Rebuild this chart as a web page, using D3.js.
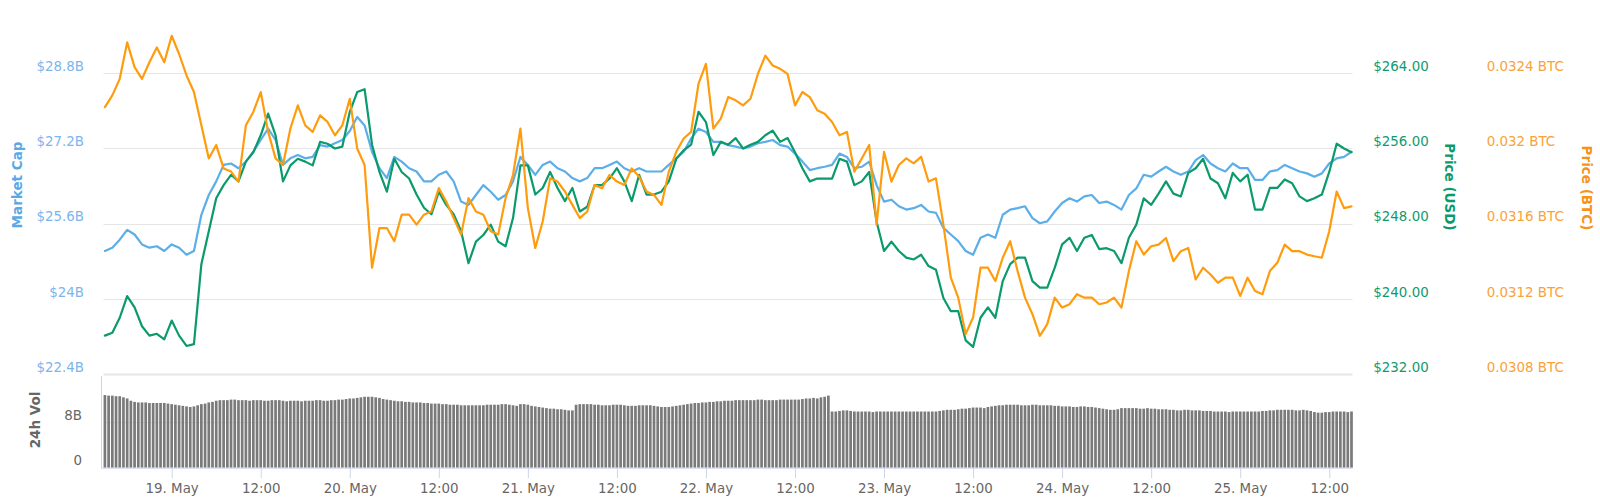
<!DOCTYPE html>
<html><head><meta charset="utf-8">
<script src="https://cdn.jsdelivr.net/npm/d3@7"></script>
<style>
body{margin:0;background:#fff}
svg{display:block;font-family:"DejaVu Sans",Verdana,sans-serif}
</style>
</head><body><svg id="c" width="1600" height="503"></svg>
<script>
// ---- data ----
const startUTC = Date.UTC(2019, 4, 18, 15, 0);   // first sample
const lineStepMinutes = 60;
const volStepMinutes = 30;

const priceUSD = [
236.1,236.4,238.0,240.3,239.1,237.1,236.1,236.3,235.7,237.7,
236.1,235.0,235.2,243.7,247.2,250.7,252.1,253.2,252.5,254.6,
255.6,257.4,259.7,257.4,252.5,254.2,254.9,254.6,254.2,256.7,
256.5,256.0,256.2,259.9,262.0,262.3,256.4,253.5,251.4,254.9,
253.5,252.8,251.1,249.7,249.0,251.4,250.0,249.0,247.2,243.8,
246.1,246.8,247.9,246.1,245.6,248.6,254.2,254.2,251.1,251.8,
253.5,251.8,250.4,251.8,249.3,249.8,252.1,252.1,252.8,253.9,
252.5,250.4,253.2,251.1,251.1,251.4,252.5,254.9,255.8,256.4,
259.9,258.8,255.3,256.7,256.4,257.1,256.0,256.4,256.7,257.4,
257.9,256.7,257.1,255.6,253.9,252.5,252.8,252.8,252.8,254.9,
254.6,252.1,252.5,253.5,248.2,245.1,246.1,245.1,244.4,244.2,
244.7,243.5,243.1,240.1,238.7,238.7,235.6,234.9,238.0,239.1,
238.0,241.9,243.7,244.4,244.4,241.9,241.2,241.2,243.3,245.8,
246.5,245.1,246.5,246.8,245.3,245.4,245.1,243.8,246.5,247.9,
250.7,250.0,251.2,252.5,251.2,250.9,253.4,253.9,254.9,252.8,
252.3,250.7,253.4,252.5,253.2,249.5,249.5,251.8,251.8,252.7,
252.3,250.9,250.4,250.7,251.1,253.5,256.5,256.0,255.6
];

const marketCapB = [
25.02,25.09,25.26,25.47,25.37,25.16,25.09,25.12,25.02,25.16,
25.09,24.94,25.02,25.79,26.21,26.50,26.85,26.88,26.78,26.92,
27.13,27.38,27.62,27.38,26.85,26.99,27.06,26.99,27.02,27.27,
27.24,27.31,27.38,27.57,27.87,27.69,27.13,26.78,26.57,27.02,
26.92,26.78,26.71,26.50,26.50,26.64,26.71,26.50,26.07,26.00,
26.21,26.42,26.28,26.11,26.21,26.50,27.02,26.85,26.64,26.85,
26.92,26.78,26.71,26.57,26.50,26.57,26.78,26.78,26.85,26.92,
26.78,26.71,26.78,26.71,26.71,26.71,26.85,26.99,27.13,27.41,
27.62,27.55,27.34,27.34,27.27,27.24,27.20,27.24,27.31,27.34,
27.38,27.27,27.24,27.09,26.92,26.74,26.78,26.81,26.85,27.09,
27.02,26.78,26.81,26.92,26.42,26.07,26.11,25.97,25.90,25.93,
26.00,25.86,25.83,25.51,25.37,25.23,25.02,24.94,25.30,25.37,
25.30,25.79,25.90,25.93,25.97,25.72,25.61,25.65,25.86,26.04,
26.14,26.07,26.18,26.21,26.04,26.07,26.00,25.90,26.21,26.35,
26.64,26.60,26.71,26.81,26.71,26.64,26.71,26.95,27.06,26.88,
26.78,26.71,26.88,26.78,26.78,26.53,26.53,26.71,26.74,26.85,
26.78,26.71,26.67,26.60,26.67,26.88,26.99,27.02,27.13
];

const priceBTC = [
0.032220,0.032282,0.032370,0.032564,0.032432,0.032370,0.032458,0.032537,0.032458,0.032599,
0.032502,0.032388,0.032300,0.032123,0.031947,0.032018,0.031894,0.031877,0.031824,0.032123,
0.032194,0.032300,0.032088,0.031947,0.031912,0.032106,0.032229,0.032123,0.032088,0.032176,
0.032141,0.032070,0.032123,0.032264,0.032000,0.031912,0.031366,0.031577,0.031577,0.031507,
0.031648,0.031648,0.031595,0.031648,0.031665,0.031789,0.031718,0.031630,0.031542,0.031736,
0.031665,0.031648,0.031560,0.031542,0.031736,0.031859,0.032106,0.031683,0.031471,0.031612,
0.031841,0.031824,0.031771,0.031700,0.031630,0.031665,0.031806,0.031789,0.031859,0.031824,
0.031806,0.031894,0.031850,0.031771,0.031753,0.031700,0.031877,0.031982,0.032053,0.032088,
0.032344,0.032449,0.032106,0.032159,0.032273,0.032256,0.032229,0.032264,0.032396,0.032493,
0.032441,0.032423,0.032396,0.032229,0.032300,0.032273,0.032203,0.032185,0.032141,0.032070,
0.032088,0.031877,0.031947,0.032018,0.031595,0.031982,0.031824,0.031912,0.031947,0.031921,
0.031956,0.031824,0.031841,0.031595,0.031313,0.031207,0.031013,0.031101,0.031366,0.031366,
0.031295,0.031419,0.031507,0.031348,0.031207,0.031119,0.031004,0.031066,0.031207,0.031154,
0.031172,0.031225,0.031207,0.031207,0.031172,0.031181,0.031207,0.031154,0.031348,0.031507,
0.031436,0.031480,0.031489,0.031524,0.031401,0.031454,0.031471,0.031304,0.031366,0.031330,
0.031286,0.031313,0.031313,0.031216,0.031313,0.031242,0.031225,0.031348,0.031392,0.031489,
0.031454,0.031454,0.031436,0.031427,0.031419,0.031560,0.031771,0.031683,0.031692
];

const volume24hB = [
12.8,12.7,12.7,12.6,12.6,12.4,12.2,11.8,
11.6,11.5,11.5,11.5,11.4,11.4,11.4,11.4,11.4,
11.3,11.2,11.1,11.0,10.9,10.8,10.7,10.8,11.0,
11.2,11.3,11.5,11.6,11.8,11.9,11.9,
11.9,12.0,12.0,11.9,11.9,11.9,11.8,11.9,11.9,11.9,11.8,11.8,11.9,11.9,11.9,11.8,11.7,
11.8,11.8,11.8,11.7,11.8,11.8,11.8,11.9,11.9,11.8,11.8,11.9,11.9,12.0,12.0,12.1,12.2,
12.2,12.3,12.4,12.5,12.5,12.5,12.4,12.3,12.1,12.0,11.9,11.8,
11.7,11.7,11.6,11.6,11.5,11.5,11.5,11.4,11.4,11.3,
11.3,11.3,11.2,11.2,11.1,11.1,11.1,11.0,11.0,
11.0,11.0,11.0,11.0,11.0,11.1,11.1,11.1,11.1,11.2,11.2,11.1,11.0,10.9,
11.2,11.2,11.1,10.9,
10.8,10.7,10.6,10.5,10.4,10.4,10.3,10.3,10.2,10.1,10.1,
11.1,11.2,11.2,11.2,11.2,11.1,11.1,
11.0,11.0,11.0,11.1,11.1,11.1,11.0,10.9,10.9,10.9,11.0,11.0,11.0,11.0,10.9,10.8,
10.7,10.7,10.7,10.8,10.9,
11.0,11.1,11.2,11.3,11.4,11.4,
11.5,11.5,11.6,11.6,11.7,11.7,11.8,11.8,11.8,11.9,11.9,11.9,11.9,
11.9,11.9,12.0,12.0,11.9,11.9,11.9,11.9,12.0,12.0,12.0,12.0,12.0,12.0,
12.1,12.2,12.2,12.3,12.2,12.4,12.5,12.7,
9.9,9.9,10.0,10.1,10.1,10.0,
9.9,9.9,9.9,9.9,9.9,9.8,9.9,9.9,9.9,9.9,9.9,9.9,9.9,9.9,9.9,9.9,9.9,9.9,9.9,9.9,9.9,9.9,9.9,10.0,10.1,
10.2,10.2,10.2,10.3,10.4,10.4,10.5,
10.6,10.6,10.6,10.5,10.7,10.8,10.9,11.0,
11.0,11.1,11.1,11.1,11.1,11.0,11.0,11.0,11.1,11.1,11.0,11.0,11.0,11.0,10.9,10.9,10.8,
10.8,10.8,10.7,10.7,10.8,10.8,10.7,10.7,10.6,10.5,10.4,10.3,
10.2,10.2,10.3,10.5,10.5,10.5,
10.5,10.5,10.4,10.4,10.5,10.4,10.4,10.3,10.3,10.3,10.2,
10.2,10.1,10.1,10.2,10.2,10.1,10.1,10.1,10.0,10.0,10.0,9.9,
9.9,9.9,9.9,9.8,9.9,9.9,9.9,9.9,9.9,9.9,9.9,9.9,10.0,10.0,10.1,10.1,
10.2,10.2,10.2,10.2,10.2,10.1,10.1,10.2,10.1,10.0,
9.8,9.7,9.7,9.8,9.8,
9.9,9.9,9.9,9.9,9.8,9.9
];

const capTicks = [22.4, 24, 25.6, 27.2, 28.8];
const usdTicks = [232, 240, 248, 256, 264];
const btcTicks = [0.0308, 0.0312, 0.0316, 0.032, 0.0324];
const volTicks = [0, 8];

// ---- chart ----
const svg = d3.select("#c");
const MIN = 60000;
const t0 = new Date(startUTC);
const t1 = new Date(startUTC + 7 * 24 * 60 * MIN);
const lineTime = i => new Date(startUTC + i * lineStepMinutes * MIN);
const volTime = i => new Date(startUTC + i * volStepMinutes * MIN);

const plotL = 103.5, plotR = 1352.5;
const x = d3.scaleUtc().domain([t0, t1]).range([104.9, 1351.5]);
const yTop = 73.2, yBot = 374.2;
const yCap = d3.scaleLinear().domain([22.4, 28.8]).range([yBot, yTop]);
const yUsd = d3.scaleLinear().domain([232, 264]).range([yBot, yTop]);
const yBtc = d3.scaleLinear().domain([0.0308, 0.0324]).range([yBot, yTop]);
const volBase = 467.7;
const yVol = d3.scaleLinear().domain([0, 16]).range([volBase, volBase - 16 * 45.4 / 8]);

const fontSize = "13.4px";
const cBlue = "#5caee8", cBlueLbl = "#7cb5ec";
const cGreen = "#0b9a6c", cGreenLbl = "#0f9a6e";
const cOrange = "#ff9c0e", cOrangeLbl = "#f9a23a";

// grid lines (main)
svg.append("g").selectAll("line").data(capTicks).join("line")
  .attr("x1", plotL).attr("x2", plotR)
  .attr("y1", d => Math.round(yCap(d)) + 0.5).attr("y2", d => Math.round(yCap(d)) + 0.5)
  .attr("stroke", "#e6e6e6").attr("stroke-width", (d, i) => i === 0 ? 2 : 1);

// volume grid
svg.append("g").selectAll("line").data(volTicks.filter(v => v > 0)).join("line")
  .attr("x1", plotL).attr("x2", plotR)
  .attr("y1", d => Math.round(yVol(d)) + 0.5).attr("y2", d => Math.round(yVol(d)) + 0.5)
  .attr("stroke", "#e6e6e6");

// volume bars
const barW = 2.7;
svg.append("g").selectAll("rect").data(volume24hB).join("rect")
  .attr("x", (d, i) => x(volTime(i)) - barW / 2)
  .attr("width", barW)
  .attr("y", d => yVol(d))
  .attr("height", d => yVol(0) - yVol(d))
  .attr("fill", "#7a7a7a");

// axes
function styleAxis(g, color, dyShift) {
  g.select(".domain").remove();
  g.selectAll(".tick line").remove();
  g.selectAll("text").attr("fill", color).attr("font-size", fontSize)
    .attr("font-family", '"DejaVu Sans",Verdana,sans-serif').attr("y", dyShift);
}
svg.append("g").attr("transform", "translate(84,0)")
  .call(d3.axisLeft(yCap).tickValues(capTicks).tickSize(0).tickPadding(0)
    .tickFormat(d => "$" + d + "B"))
  .call(g => styleAxis(g, cBlueLbl, -7));

svg.append("g").attr("transform", "translate(1373.3,0)")
  .call(d3.axisRight(yUsd).tickValues(usdTicks).tickSize(0).tickPadding(0)
    .tickFormat(d => "$" + d.toFixed(2)))
  .call(g => styleAxis(g, cGreenLbl, -7));

svg.append("g").attr("transform", "translate(1486.7,0)")
  .call(d3.axisRight(yBtc).tickValues(btcTicks).tickSize(0).tickPadding(0)
    .tickFormat(d => d + " BTC"))
  .call(g => styleAxis(g, cOrangeLbl, -7));

svg.append("g").attr("transform", "translate(82,0)")
  .call(d3.axisLeft(yVol).tickValues(volTicks).tickSize(0).tickPadding(0)
    .tickFormat(d => d === 0 ? "0" : d + "B"))
  .call(g => styleAxis(g, "#666666", -7));

// volume axis line + bottom axis line
svg.append("line").attr("x1", 101.5).attr("x2", 101.5).attr("y1", 376).attr("y2", volBase + 0.5)
  .attr("stroke", "#ccd6eb");
svg.append("line").attr("x1", 101).attr("x2", plotR).attr("y1", volBase + 0.5).attr("y2", volBase + 0.5)
  .attr("stroke", "#ccd6eb");

// x axis
const xTicks = d3.utcHour.every(12).range(new Date(Date.UTC(2019, 4, 19, 0)), t1);
svg.append("g").attr("transform", `translate(0,${volBase + 0.5})`)
  .call(d3.axisBottom(x).tickValues(xTicks).tickSize(10).tickPadding(5.4)
    .tickFormat(d => d.getUTCHours() === 0 ? d.getUTCDate() + ". May" : "12:00"))
  .call(g => {
    g.select(".domain").remove();
    g.selectAll(".tick line").attr("stroke", "#ccd6eb");
    g.selectAll("text").attr("fill", "#666666").attr("font-size", fontSize)
      .attr("font-family", '"DejaVu Sans",Verdana,sans-serif');
  });

// lines
const mkLine = y => d3.line().x((d, i) => x(lineTime(i))).y(d => y(d));
const series = [
  {data: marketCapB, y: yCap, color: cBlue},
  {data: priceUSD, y: yUsd, color: cGreen},
  {data: priceBTC, y: yBtc, color: cOrange}
];
svg.append("g").selectAll("path").data(series).join("path")
  .attr("d", s => mkLine(s.y)(s.data))
  .attr("fill", "none").attr("stroke", s => s.color)
  .attr("stroke-width", 2.2).attr("stroke-linejoin", "round").attr("stroke-linecap", "round");

// axis titles
function title(txt, cx, cy, rot, color) {
  svg.append("text").attr("transform", `translate(${cx},${cy}) rotate(${rot})`)
    .attr("text-anchor", "middle").attr("dy", "0.35em")
    .attr("font-size", "13.5px").attr("font-weight", "bold").attr("fill", color)
    .text(txt);
}
title("Market Cap", 17, 185, -90, "#5aa9e6");
title("Price (USD)", 1450, 187, 90, cGreen);
title("Price (BTC)", 1587, 188, 90, "#f7931a");
title("24h Vol", 35, 420, -90, "#666666");
</script>
</body></html>
